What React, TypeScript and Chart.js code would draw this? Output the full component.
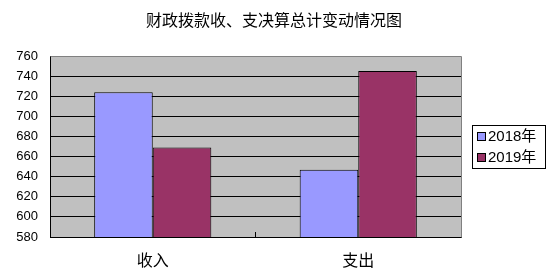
import React, { useEffect, useRef } from "react";
import { Chart, registerables } from "chart.js";

Chart.register(...registerables);

const title = "财政拨款收、支决算总计变动情况图";
const categories = ["收入", "支出"];
const seriesLabels = ["2018年", "2019年"];
const values2018 = [724, 647];
const values2019 = [669, 745];
const seriesColors = ["#9999FF", "#993366"];
const yMin = 580;
const yMax = 760;
const yStep = 20;

const FONT = "'Liberation Sans', 'Noto Sans CJK SC', sans-serif";
const CJK = "'Noto Sans CJK SC', 'Liberation Sans', sans-serif";

const decorPlugin = {
  id: "decor",
  beforeDraw(chart: any) {
    const { ctx, chartArea: a } = chart;
    ctx.save();
    ctx.fillStyle = "#ffffff";
    ctx.fillRect(0, 0, chart.width, chart.height);
    ctx.fillStyle = "#C0C0C0";
    ctx.fillRect(a.left, a.top, a.right - a.left, a.bottom - a.top);
    ctx.restore();
  },
  afterDraw(chart: any) {
    const { ctx, chartArea: a } = chart;
    ctx.save();
    ctx.strokeStyle = "#808080";
    ctx.lineWidth = 1;
    ctx.beginPath();
    ctx.moveTo(Math.round(a.left) + 0.5, Math.round(a.top) + 0.5);
    ctx.lineTo(Math.round(a.right) + 0.5, Math.round(a.top) + 0.5);
    ctx.lineTo(Math.round(a.right) + 0.5, Math.round(a.bottom) + 0.5);
    ctx.stroke();
    ctx.fillStyle = "#000";
    ctx.font = "16px " + CJK;
    ctx.textAlign = "center";
    ctx.textBaseline = "middle";
    ctx.fillText(title, 274, 20);
    const lx = 472.5, ly = 125.5, lw = 73, lh = 43;
    ctx.fillStyle = "#fff";
    ctx.fillRect(lx, ly, lw, lh);
    ctx.strokeStyle = "#000";
    ctx.strokeRect(lx, ly, lw, lh);
    ctx.font = "15px " + FONT;
    ctx.textAlign = "left";
    chart.data.datasets.forEach((ds: any, i: number) => {
      const cy = 137 + i * 21;
      ctx.fillStyle = ds.backgroundColor;
      ctx.fillRect(477.5, cy - 4.5, 8, 8);
      ctx.strokeStyle = "#000";
      ctx.strokeRect(477.5, cy - 4.5, 8, 8);
      ctx.fillStyle = "#000";
      ctx.fillText(ds.label, 488, cy);
    });
    ctx.restore();
  },
};

export default function App() {
  const ref = useRef<HTMLCanvasElement | null>(null);
  useEffect(() => {
    if (!ref.current) return;
    const chart = new Chart(ref.current, {
      type: "bar",
      data: {
        labels: categories,
        datasets: [
          {
            label: seriesLabels[0],
            data: values2018,
            backgroundColor: seriesColors[0],
            borderColor: "#000",
            borderWidth: 1,
            barPercentage: 1.0,
            categoryPercentage: 0.57,
          },
          {
            label: seriesLabels[1],
            data: values2019,
            backgroundColor: seriesColors[1],
            borderColor: "#000",
            borderWidth: 1,
            barPercentage: 1.0,
            categoryPercentage: 0.57,
          },
        ],
      },
      plugins: [decorPlugin],
      options: {
        responsive: false,
        animation: false,
        layout: { padding: { top: 56, right: 89, bottom: 0, left: 0 } },
        plugins: {
          legend: { display: false },
          title: { display: false },
          tooltip: { enabled: false },
        },
        scales: {
          x: {
            offset: true,
            afterFit: (s: any) => {
              s.height = 42;
            },
            grid: {
              drawOnChartArea: false,
              drawTicks: true,
              tickLength: -5,
              color: "#000",
              offset: true,
            },
            border: { display: true, color: "#000" },
            ticks: {
              color: "#000",
              padding: 18,
              font: { family: CJK, size: 16 },
            },
          },
          y: {
            min: yMin,
            max: yMax,
            afterFit: (s: any) => {
              s.width = 50;
            },
            grid: {
              color: (c: any) => (c.tick && c.tick.value === yMax ? "rgba(0,0,0,0)" : "#000"),
              drawTicks: false,
              tickLength: 0,
            },
            border: { display: true, color: "#000" },
            ticks: {
              stepSize: yStep,
              color: "#000",
              padding: 12,
              font: { family: FONT, size: 13 },
            },
          },
        },
      },
    });
    return () => chart.destroy();
  }, []);
  return (
    <div style={{ position: "absolute", left: 0, top: 0, width: 550, height: 279, background: "#fff" }}>
      <canvas ref={ref} width={550} height={279} style={{ display: "block" }} />
    </div>
  );
}
